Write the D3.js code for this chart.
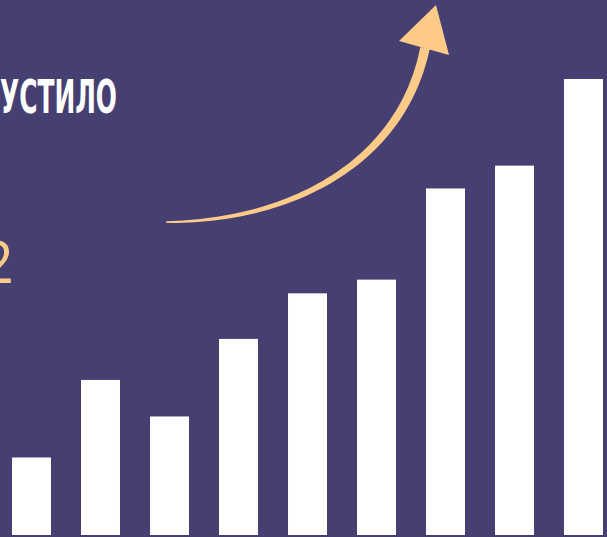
<!DOCTYPE html>
<html>
<head>
<meta charset="utf-8">
<script src="https://cdn.jsdelivr.net/npm/d3@7"></script>
<style>
  html, body { margin: 0; padding: 0; background: #463f72; }
  svg { display: block; }
</style>
</head>
<body>
<svg width="607" height="537"></svg>
<script>
// bar chart data (tallest = 100)
const categories = ["1", "2", "3", "4", "5", "6", "7", "8", "9"];
const values = [17, 34, 26, 43, 53, 56, 76, 81, 100];
const titleText = "УСТИЛО";
const numberText = "2";

document.addEventListener('DOMContentLoaded', () => {

    const svg = d3.select("svg"),
          width = +svg.attr("width"),
          height = +svg.attr("height");

    svg.append("rect")
        .attr("width", width)
        .attr("height", height)
        .attr("fill", "#463f72");

    const xScale = d3.scaleBand()
        .domain(categories)
        .range([12, 603])
        .paddingInner(0.435)
        .paddingOuter(0);

    const yScale = d3.scaleLinear().domain([0, 100]).range([535, 79]);

    svg.append("g")
        .selectAll("rect")
        .data(values)
        .enter()
        .append("rect")
        .attr("x", (d, i) => xScale(categories[i]))
        .attr("y", d => yScale(d))
        .attr("width", xScale.bandwidth())
        .attr("height", d => yScale(0) - yScale(d))
        .attr("fill", "#ffffff");

    // heading, cut by the left edge
    svg.append("text")
        .attr("x", 0)
        .attr("y", 113)
        .attr("font-family", "'Liberation Sans Narrow', 'DejaVu Sans Condensed', sans-serif")
        .attr("font-weight", "bold")
        .attr("font-size", 47)
        .attr("textLength", 117)
        .attr("lengthAdjust", "spacingAndGlyphs")
        .attr("fill", "#ffffff")
        .text(titleText);

    // number, mostly outside the left edge as in the picture
    svg.append("text")
        .attr("x", 14)
        .attr("y", 283)
        .attr("text-anchor", "end")
        .attr("font-family", "'Open Sans', sans-serif")
        .attr("font-weight", 400)
        .attr("font-size", 59)
        .attr("fill", "#fdca88")
        .text(numberText);

    // tapered arrow shaft along a cubic curve
    const p0 = [166, 222], p1 = [280, 222], p2 = [400, 170], p3 = [425, 48];
    const bez = t => {
        const u = 1 - t;
        return [
            u*u*u*p0[0] + 3*u*u*t*p1[0] + 3*u*t*t*p2[0] + t*t*t*p3[0],
            u*u*u*p0[1] + 3*u*u*t*p1[1] + 3*u*t*t*p2[1] + t*t*t*p3[1]
        ];
    };
    const left = [], right = [];
    const n = 60;
    for (let i = 0; i <= n; i++) {
        const t = i / n;
        const a = bez(Math.max(0, t - 0.001)), b = bez(Math.min(1, t + 0.001));
        const dx = b[0] - a[0], dy = b[1] - a[1];
        const len = Math.hypot(dx, dy);
        const nx = -dy / len, ny = dx / len;
        const w = 0.8 + 4.0 * Math.pow(t, 0.8);
        const p = bez(t);
        left.push([p[0] + nx * w, p[1] + ny * w]);
        right.push([p[0] - nx * w, p[1] - ny * w]);
    }
    const shaft = left.concat(right.reverse());
    svg.append("path")
        .attr("d", d3.line()(shaft) + "Z")
        .attr("fill", "#fdca88");

    svg.append("path")
        .attr("d", d3.line()([[436, 5], [399, 41], [449, 55]]) + "Z")
        .attr("fill", "#fdca88");
});
</script>
</body>
</html>
